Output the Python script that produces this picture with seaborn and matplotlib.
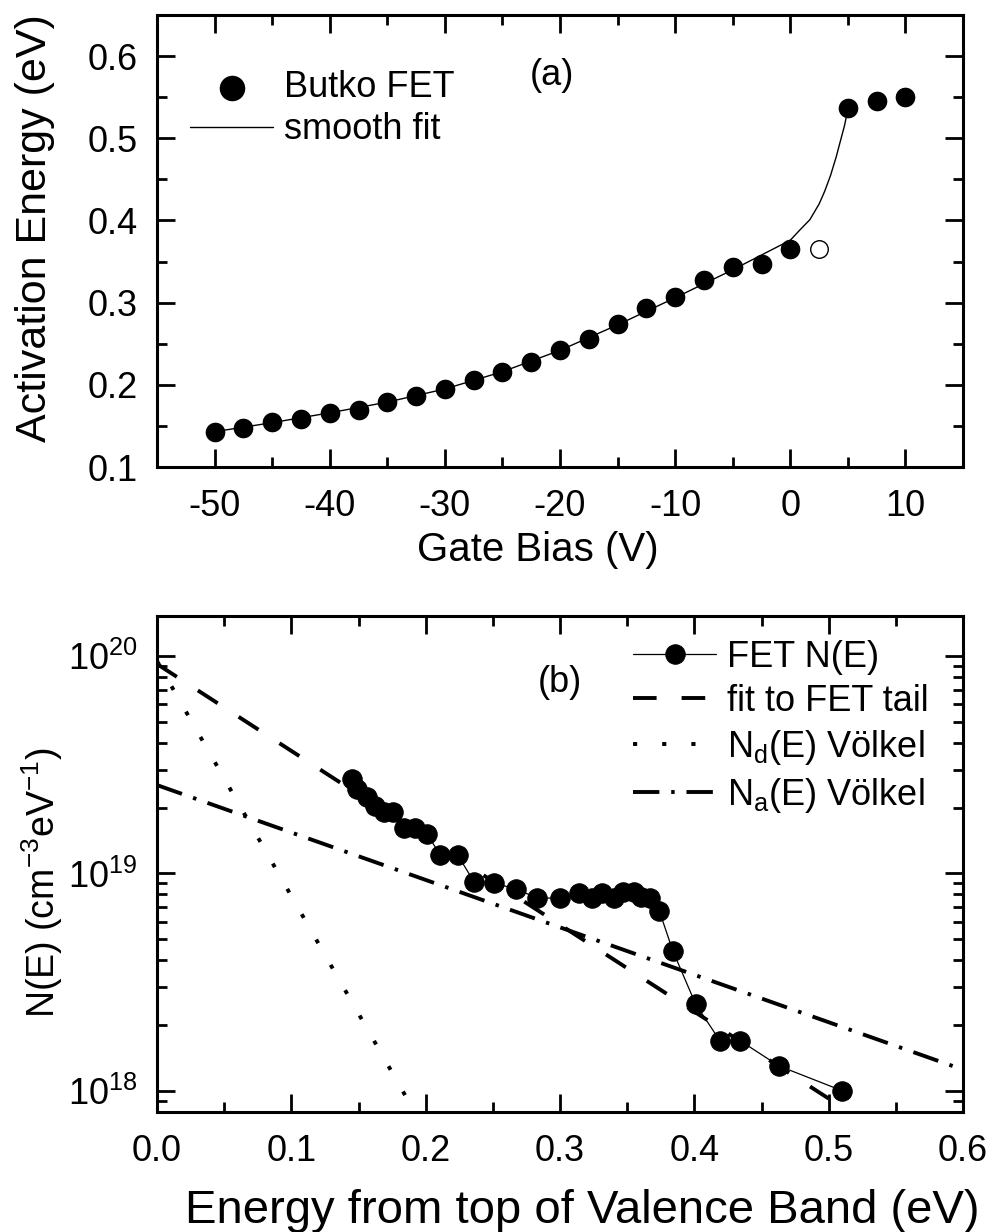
import numpy as np
import pandas as pd
import seaborn as sns
import matplotlib.pyplot as plt
from matplotlib.ticker import MultipleLocator, FormatStrFormatter, LogLocator

# ---- data ----
# (a) activation energy vs gate bias
gate_bias = [-50, -47.5, -45, -42.5, -40, -37.5, -35, -32.5, -30, -27.5,
             -25, -22.5, -20, -17.5, -15, -12.5, -10, -7.5, -5, -2.5,
             0, 5, 7.5, 10]
act_energy = [0.143, 0.148, 0.155, 0.158, 0.166, 0.170, 0.179, 0.187, 0.195, 0.206,
              0.216, 0.228, 0.242, 0.256, 0.274, 0.294, 0.307, 0.328, 0.344, 0.347,
              0.365, 0.537, 0.545, 0.550]
open_bias = [2.5]
open_energy = [0.365]

fit_bias = [-50, -45, -40, -35, -30, -25, -20, -15, -10, -5, -2.5,
            0, 0.8, 1.7, 2.5, 3.0, 3.5, 4.0, 4.3, 4.7, 5.0]
fit_energy = [0.143, 0.154, 0.166, 0.179, 0.195, 0.216, 0.242, 0.273, 0.306, 0.340, 0.358,
              0.376, 0.388, 0.401, 0.420, 0.436, 0.455, 0.478, 0.494, 0.515, 0.535]

# (b) density of states
energy = [0.145, 0.149, 0.156, 0.162, 0.169, 0.176, 0.184, 0.192, 0.201, 0.211,
          0.224, 0.236, 0.251, 0.267, 0.283, 0.300, 0.314, 0.324, 0.331, 0.340,
          0.347, 0.355, 0.360, 0.367, 0.374, 0.384, 0.401, 0.419, 0.434, 0.463,
          0.510]
dos = [2.73e19, 2.44e19, 2.25e19, 2.04e19, 1.92e19, 1.92e19, 1.61e19, 1.61e19, 1.52e19, 1.21e19,
       1.21e19, 9.15e18, 9.0e18, 8.5e18, 7.7e18, 7.7e18, 8.1e18, 7.7e18, 8.1e18, 7.7e18,
       8.2e18, 8.2e18, 7.8e18, 7.7e18, 6.7e18, 4.4e18, 2.5e18, 1.7e18, 1.7e18, 1.3e18,
       1.0e18]

tail_E = [0.0, 0.5]
tail_N = [9.2e19, 9.2e17]
nd_E = [0.0, 0.187]
nd_N = [9.5e19, 9.0e17]
na_E = [0.0, 0.6]
na_N = [2.55e19, 1.25e18]

# ---- style ----
sns.set_theme(style='ticks')
plt.rcParams['font.family'] = ['Liberation Sans', 'DejaVu Sans']
plt.rcParams['mathtext.fontset'] = 'custom'
plt.rcParams['mathtext.rm'] = 'Liberation Sans'
plt.rcParams['mathtext.it'] = 'Liberation Sans:italic'
plt.rcParams['axes.unicode_minus'] = False
plt.rcParams['lines.scale_dashes'] = False
plt.rcParams['text.color'] = 'black'
plt.rcParams['axes.labelcolor'] = 'black'
plt.rcParams['xtick.color'] = 'black'
plt.rcParams['ytick.color'] = 'black'

TICK = 26

fig = plt.figure(figsize=(9.97, 12.32), dpi=100)
ax1 = fig.add_axes([0.1575, 0.6209, 0.8084, 0.3669])
ax2 = fig.add_axes([0.1575, 0.0974, 0.8084, 0.4026])


def frame(ax):
    for s in ax.spines.values():
        s.set_linewidth(2.2)
        s.set_color('black')
        s.set_visible(True)
    ax.tick_params(which='both', direction='in', top=True, right=True,
                   width=2, colors='black', labelsize=TICK)
    ax.tick_params(which='major', length=13)
    ax.tick_params(which='minor', length=7)
    ax.tick_params(axis='x', which='both', pad=16)
    ax.tick_params(axis='y', which='both', pad=14)
    ax.set_facecolor('white')


# ---- (a) ----
sns.lineplot(x=fit_bias, y=fit_energy, ax=ax1, color='black', lw=1.0,
             sort=False, zorder=2, errorbar=None, label='smooth fit')
sns.scatterplot(x=gate_bias, y=act_energy, ax=ax1, color='black', s=200,
                edgecolor='black', linewidth=0, zorder=3, label='Butko FET')
sns.scatterplot(x=open_bias, y=open_energy, ax=ax1, facecolor='white', s=160,
                edgecolor='black', linewidth=1.0, zorder=3)

ax1.set_xlim(-55, 15)
ax1.set_ylim(0.1, 0.65)
ax1.xaxis.set_major_locator(MultipleLocator(10))
ax1.xaxis.set_minor_locator(MultipleLocator(5))
ax1.yaxis.set_major_locator(MultipleLocator(0.1))
ax1.yaxis.set_minor_locator(MultipleLocator(0.05))
ax1.yaxis.set_major_formatter(FormatStrFormatter('%.1f'))
frame(ax1)
ax1.set_xlabel('Gate Bias (V)', fontsize=29)
ax1.set_ylabel('Activation Energy (eV)', fontsize=31)
ax1.xaxis.set_label_coords(0.473, -0.142)
ax1.yaxis.set_label_coords(-0.127, 0.529)

handles, labels = ax1.get_legend_handles_labels()
order = [labels.index('Butko FET'), labels.index('smooth fit')]
ax1.legend([handles[i] for i in order], [labels[i] for i in order],
           loc='upper left', bbox_to_anchor=(0.041, 0.878), frameon=False,
           fontsize=26, handlelength=2.3, handletextpad=0.3, labelspacing=0.2,
           borderpad=0, borderaxespad=0, scatterpoints=1, markerscale=1.3)
ax1.text(0.49, 0.867, '(a)', transform=ax1.transAxes, fontsize=26,
         ha='center', va='center')

# ---- (b) ----
ax2.set_yscale('log')
sns.lineplot(x=energy, y=dos, ax=ax2, color='black', lw=0.9, marker='o',
             markersize=14, mec='black', mfc='black', sort=False,
             errorbar=None, label='FET N(E)', zorder=3)
sns.lineplot(x=tail_E, y=tail_N, ax=ax2, color='black', lw=2.8,
             linestyle=(0, (17, 18)), label='fit to FET tail', zorder=2)
sns.lineplot(x=nd_E, y=nd_N, ax=ax2, color='black', lw=2.8,
             linestyle=(0, (3, 18)), label=r'N$_\mathregular{d}$(E) Völkel', zorder=2)
sns.lineplot(x=na_E, y=na_N, ax=ax2, color='black', lw=2.8,
             linestyle=(0, (19, 8.5, 2.5, 8.5)), label=r'N$_\mathregular{a}$(E) Völkel',
             zorder=2)

ax2.set_xlim(0, 0.6)
ax2.set_ylim(7.98e17, 1.53e20)
ax2.xaxis.set_major_locator(MultipleLocator(0.1))
ax2.xaxis.set_minor_locator(MultipleLocator(0.05))
ax2.xaxis.set_major_formatter(FormatStrFormatter('%.1f'))
ax2.yaxis.set_major_locator(LogLocator(base=10))
ax2.yaxis.set_minor_locator(LogLocator(base=10, subs=np.arange(2, 10)))
frame(ax2)
ax2.set_xlabel('Energy from top of Valence Band (eV)', fontsize=34)
ax2.set_ylabel(r'N(E) (cm$^{-3}$eV$^{-1}$)', fontsize=27)
ax2.xaxis.set_label_coords(0.527, -0.155)
ax2.yaxis.set_label_coords(-0.114, 0.462)

ax2.legend(loc='upper left', bbox_to_anchor=(0.5906, 0.952), frameon=False,
           fontsize=26, handlelength=2.3, handletextpad=0.3, labelspacing=0.25,
           borderpad=0, borderaxespad=0)
ax2.text(0.5, 0.865, '(b)', transform=ax2.transAxes, fontsize=26,
         ha='center', va='center')

fig.savefig('out.png', dpi=100, facecolor='white')
